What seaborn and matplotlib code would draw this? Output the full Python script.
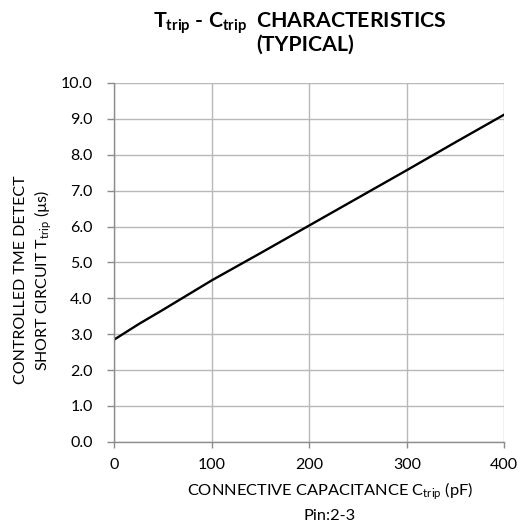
import matplotlib
matplotlib.use("Agg")
import matplotlib.pyplot as plt
import seaborn as sns
import pandas as pd
import numpy as np

# Data
c_trip_pf = [0, 25, 50, 100, 150, 200, 250, 300, 350, 400]
t_trip_us = [2.85, 3.28, 3.68, 4.50, 5.26, 6.03, 6.80, 7.57, 8.35, 9.12]
x_ticks = [0, 100, 200, 300, 400]
y_ticks = [0, 1, 2, 3, 4, 5, 6, 7, 8, 9, 10]

df = pd.DataFrame({"C": c_trip_pf, "T": t_trip_us})

sns.set_theme(style="white")
plt.rcParams["font.family"] = ["Lato", "DejaVu Sans"]
plt.rcParams["mathtext.fontset"] = "custom"
plt.rcParams["mathtext.rm"] = "Lato"
plt.rcParams["mathtext.it"] = "Lato:italic"
plt.rcParams["mathtext.bf"] = "Lato:bold"

fig = plt.figure(figsize=(5.21, 5.24), dpi=100)
ax = fig.add_axes([114.3 / 521, 1 - 441.8 / 524, (504.3 - 114.3) / 521, (441.8 - 83) / 524])

sns.lineplot(data=df, x="C", y="T", ax=ax, color="black", linewidth=1.7)

ax.set_xlim(0, 400)
ax.set_ylim(0, 10)
ax.set_xticks(x_ticks)
ax.set_yticks(y_ticks)
ax.set_yticklabels([f"{v:.1f}" for v in y_ticks])
ax.set_xticklabels([str(v) for v in x_ticks])

grid_col = "#b8b8b8"
ax.grid(True, color=grid_col, linewidth=1.0)
ax.set_axisbelow(True)
for s in ["top", "right"]:
    ax.spines[s].set_visible(False)
for s in ["left", "bottom"]:
    ax.spines[s].set_color("#8c8c8c")
    ax.spines[s].set_linewidth(1.0)

ax.tick_params(axis="y", which="major", left=True, length=5, width=1.0, color="#8c8c8c",
               pad=10.5, labelsize=11.5, labelcolor="black")
ax.tick_params(axis="x", which="major", bottom=True, length=4.3, width=1.0, color="#8c8c8c",
               pad=7.5, labelsize=11.5, labelcolor="black")

ax.set_xlabel("")
ax.set_ylabel("")

fig.text(330 / 521, 1 - 491 / 524, r"CONNECTIVE CAPACITANCE C$_{\mathrm{trip}}$ (pF)",
         ha="center", va="center", fontsize=11.8, color="black")
fig.text(330 / 521, 1 - 516 / 524, "Pin:2-3", ha="center", va="center", fontsize=11.8, color="black")

fig.text(21 / 521, 1 - 280 / 524, "CONTROLLED TME DETECT",
         ha="center", va="center", rotation=90, fontsize=11.5, color="black")
fig.text(43 / 521, 1 - 280 / 524, r"SHORT CIRCUIT T$_{\mathrm{trip}}$ (µs)",
         ha="center", va="center", rotation=90, fontsize=11.5, color="black")

fig.text(300 / 521, 1 - 23 / 524,
         r"$\mathbf{T_{trip}}$ - $\mathbf{C_{trip}}$  CHARACTERISTICS",
         ha="center", va="center", fontsize=15.3, fontweight="bold", color="black")
fig.text(305 / 521, 1 - 45 / 524, "(TYPICAL)",
         ha="center", va="center", fontsize=15.3, fontweight="bold", color="black")

fig.savefig("out.png", dpi=100, facecolor="white")
